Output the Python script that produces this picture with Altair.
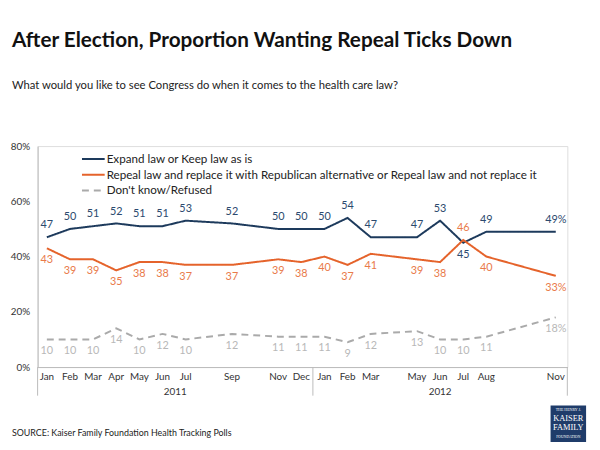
import altair as alt
import pandas as pd

# ---- data ----
months = ["Jan", "Feb", "Mar", "Apr", "May", "Jun", "Jul", "Sep", "Nov", "Dec",
          "Jan", "Feb", "Mar", "May", "Jun", "Jul", "Aug", "Nov"]
years = [2011, 2011, 2011, 2011, 2011, 2011, 2011, 2011, 2011, 2011,
         2012, 2012, 2012, 2012, 2012, 2012, 2012, 2012]
expand = [47, 50, 51, 52, 51, 51, 53, 52, 50, 50, 50, 54, 47, 47, 53, 45, 49, 49]
repeal = [43, 39, 39, 35, 38, 38, 37, 37, 39, 38, 40, 37, 41, 39, 38, 46, 40, 33]
dontknow = [10, 10, 10, 14, 10, 12, 10, 12, 11, 11, 11, 9, 12, 13, 10, 10, 11, 18]

series_names = [
    "Expand law or Keep law as is",
    "Repeal law and replace it with Republican alternative or Repeal law and not replace it",
    "Don't know/Refused",
]
year_labels = ["2011", "2012"]
y_ticks = [0, 20, 40, 60, 80]

title = "After Election, Proportion Wanting Repeal Ticks Down"
subtitle = "What would you like to see Congress do when it comes to the health care law?"
source = "SOURCE: Kaiser Family Foundation Health Tracking Polls"

# ---- styles ----
line_colors = ["#1d3a5c", "#e5632b", "#aaaaaa"]
label_colors = ["#2c4a6e", "#e97a4a", "#b8b8b8"]
dashes = [[1, 0], [1, 0], [7, 5]]
FONT = "Lato"
W, H = 537, 224

month_order = ["Jan", "Feb", "Mar", "Apr", "May", "Jun", "Jul", "Aug", "Sep", "Oct", "Nov", "Dec"]
t = [(y - years[0]) * 12 + month_order.index(m) for m, y in zip(months, years)]
x_min, x_max = -0.4, 22.5
year_bounds = [x_min, 11.5, x_max]
year_centers = [(year_bounds[0] + year_bounds[1]) / 2, (year_bounds[1] + year_bounds[2]) / 2]

rows = []
all_vals = [expand, repeal, dontknow]
n = len(t)
for s, vals in enumerate(all_vals):
    for i in range(n):
        v = vals[i]
        if s == 0:
            above = expand[i] >= repeal[i]
        elif s == 1:
            above = repeal[i] > expand[i]
        else:
            above = False
        lab = f"{v}%" if i == n - 1 else str(v)
        rows.append({"t": t[i], "value": v, "series": series_names[s],
                     "sidx": s, "above": above, "label": lab})
df = pd.DataFrame(rows)

xscale = alt.Scale(domain=[x_min, x_max], nice=False, zero=False)
yscale = alt.Scale(domain=[0, 80], nice=False)

x_axis = alt.Axis(values=t, labels=False, ticks=False, grid=False, domainColor="#bbbbbb", orient="bottom")
y_axis = alt.Axis(values=y_ticks, labelExpr="datum.value + '%'", ticks=False, grid=False,
                  domainColor="#bbbbbb", labelColor="#333333", labelFontSize=10,
                  labelPadding=8, labelFont=FONT, orient="left")
X = alt.X("t:Q", scale=xscale, title=None, axis=x_axis)
Y = alt.Y("value:Q", scale=yscale, title=None, axis=y_axis)

lines = alt.Chart(df).mark_line(strokeWidth=2).encode(
    x=X, y=Y,
    color=alt.Color("series:N", scale=alt.Scale(domain=series_names, range=line_colors), legend=None),
    strokeDash=alt.StrokeDash("series:N", scale=alt.Scale(domain=series_names, range=dashes), legend=None),
)

layers = [lines]
for s in range(3):
    for above in (True, False):
        sub = df[(df["sidx"] == s) & (df["above"] == above)]
        if len(sub) == 0:
            continue
        layers.append(
            alt.Chart(sub).mark_text(dy=-12 if above else 12, fontSize=11, font=FONT,
                                     color=label_colors[s], baseline="middle").encode(
                x=X, y=Y, text="label:N")
        )

# month labels along the bottom axis
mon_df = pd.DataFrame({"t": t, "label": months})
layers.append(alt.Chart(mon_df).mark_text(fontSize=10, font=FONT, color="#333333", baseline="middle").encode(
    x=X, y=alt.value(H + 10), text="label:N"))

# year separators and labels
sep_df = pd.DataFrame({"t": year_bounds})
layers.append(alt.Chart(sep_df).mark_rule(color="#bbbbbb", strokeWidth=1).encode(
    x=X, y=alt.value(H), y2=alt.value(H + 29)))
yr_df = pd.DataFrame({"t": year_centers, "label": year_labels})
layers.append(alt.Chart(yr_df).mark_text(fontSize=10, font=FONT, color="#333333", baseline="middle").encode(
    x=X, y=alt.value(H + 25), text="label:N"))

one = pd.DataFrame({"k": [0]})

def txt(text, x, y, **kw):
    return alt.Chart(one).mark_text(align="left", baseline="alphabetic", font=FONT, **kw).encode(
        x=alt.value(x), y=alt.value(y), text=alt.value(text))

layers.append(txt(title, -26, -100, fontSize=21, fontWeight="bold", color="#111111"))
layers.append(txt(subtitle, -26, -58, fontSize=11.4, color="#222222"))
layers.append(txt(source, -26, 294, fontSize=9, color="#222222"))

# legend
for s in range(3):
    yy = 13 + 16 * s
    layers.append(alt.Chart(one).mark_rule(color=line_colors[s], strokeWidth=2, strokeDash=dashes[s]).encode(
        x=alt.value(45), x2=alt.value(68), y=alt.value(yy)))
    layers.append(alt.Chart(one).mark_text(align="left", baseline="middle", font=FONT, fontSize=11.8,
                                            color="#222222").encode(
        x=alt.value(70), y=alt.value(yy), text=alt.value(series_names[s])))

# logo
layers.append(alt.Chart(one).mark_rect(color="#1f3c6a").encode(
    x=alt.value(520), x2=alt.value(556), y=alt.value(263), y2=alt.value(300)))
logo_lines = [("THE HENRY J.", 4, 269), ("KAISER", 8.5, 279), ("FAMILY", 8.5, 288), ("FOUNDATION", 3.8, 296)]
for text, fs, yy in logo_lines:
    layers.append(alt.Chart(one).mark_text(align="center", baseline="alphabetic", font="Liberation Serif",
                                            fontSize=fs, color="white").encode(
        x=alt.value(538), y=alt.value(yy), text=alt.value(text)))

chart = alt.layer(*layers).properties(
    width=W, height=H,
    autosize=alt.AutoSizeParams(type="none"),
    padding={"left": 30, "top": 137, "right": 25, "bottom": 73},
).configure_view(stroke=None).configure(font=FONT)

chart.save("out.html", embed_options={"renderer": "svg", "actions": False})
